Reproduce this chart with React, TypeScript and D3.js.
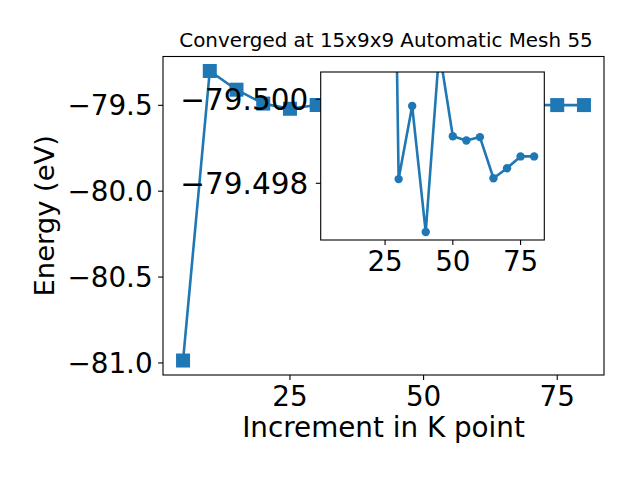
import React from "react";
import * as d3 from "d3";

const kPoints = [5, 10, 15, 20, 25, 30, 35, 40, 45, 50, 55, 60, 65, 70, 75, 80];
const energies = [
  -80.986, -79.3, -79.409, -79.49, -79.52, -79.4981, -79.49984, -79.49684,
  -79.50117, -79.49912, -79.49902, -79.4991, -79.49812, -79.49836, -79.49864,
  -79.49864,
];
const insetStartIndex = 4;
const mainYTicks = [-79.5, -80.0, -80.5, -81.0];
const mainXTicks = [25, 50, 75];
const insetYTicks = [-79.5, -79.498];
const insetXTicks = [25, 50, 75];
const titleText = "Converged at 15x9x9 Automatic Mesh 55";
const xLabel = "Increment in K point";
const yLabel = "Energy (eV)";

const BLUE = "#1f77b4";
const FONT = "DejaVu Sans";

export default function App() {
  const M = { left: 163, right: 604, top: 56.5, bottom: 375 };
  const I = { left: 320.7, right: 544.3, top: 72, bottom: 240 };

  const xDom = d3.extent(kPoints) as [number, number];
  const xPad = (xDom[1] - xDom[0]) * 0.05;
  const x = d3.scaleLinear().domain([xDom[0] - xPad, xDom[1] + xPad]).range([M.left, M.right]);
  const yDom = d3.extent(energies) as [number, number];
  const yPad = (yDom[1] - yDom[0]) * 0.05;
  const y = d3.scaleLinear().domain([yDom[0] - yPad, yDom[1] + yPad]).range([M.bottom, M.top]);

  const xi = d3.scaleLinear().domain([xDom[0] - xPad, xDom[1] + xPad]).range([I.left, I.right]);
  const yi = d3.scaleLinear().domain([-79.50065, -79.49665]).range([I.top, I.bottom]);

  const data = kPoints.map((k, i) => ({ k, e: energies[i] }));
  const insetData = data.slice(insetStartIndex);

  const mainLine = d3.line<{ k: number; e: number }>().x((d) => x(d.k)).y((d) => y(d.e))(data) || "";
  const insetLine = d3.line<{ k: number; e: number }>().x((d) => xi(d.k)).y((d) => yi(d.e))(insetData) || "";

  const tl = 4.9;
  const ms = 14;

  return (
    <svg width={640} height={480} style={{ position: "absolute", left: 0, top: 0, background: "#fff" }} fontFamily={FONT}>
      <defs>
        <clipPath id="mainClip">
          <rect x={M.left} y={M.top} width={M.right - M.left} height={M.bottom - M.top} />
        </clipPath>
        <clipPath id="insetClip">
          <rect x={I.left} y={I.top} width={I.right - I.left} height={I.bottom - I.top} />
        </clipPath>
      </defs>
      <rect x={0} y={0} width={640} height={480} fill="#fff" />
      {/* main data */}
      <g clipPath="url(#mainClip)">
        <path d={mainLine} fill="none" stroke={BLUE} strokeWidth={2.6} strokeLinejoin="round" />
        {data.map((d, i) => (
          <rect key={i} x={x(d.k) - ms / 2} y={y(d.e) - ms / 2} width={ms} height={ms} fill={BLUE} />
        ))}
      </g>
      {/* main spines */}
      <rect x={M.left} y={M.top} width={M.right - M.left} height={M.bottom - M.top} fill="none" stroke="#000" strokeWidth={1.1} />
      {/* main ticks */}
      {mainYTicks.map((t) => (
        <g key={"my" + t}>
          <line x1={M.left - tl} x2={M.left} y1={y(t)} y2={y(t)} stroke="#000" strokeWidth={1.1} />
          <text x={M.left - tl - 5.5} y={y(t)} dy="0.36em" textAnchor="end" fontSize={27.8}>
            {d3.format(".1f")(t).replace("-", "\u2212")}
          </text>
        </g>
      ))}
      {mainXTicks.map((t) => (
        <g key={"mx" + t}>
          <line x1={x(t)} x2={x(t)} y1={M.bottom} y2={M.bottom + tl} stroke="#000" strokeWidth={1.1} />
          <text x={x(t)} y={M.bottom + tl + 4.9} dy="0.76em" textAnchor="middle" fontSize={27.8}>
            {t}
          </text>
        </g>
      ))}
      <text x={(M.left + M.right) / 2} y={437} textAnchor="middle" fontSize={27.8}>
        {xLabel}
      </text>
      <text transform={`translate(54,${(M.top + M.bottom) / 2}) rotate(-90)`} textAnchor="middle" fontSize={27.4}>
        {yLabel}
      </text>
      <text x={386} y={46.5} textAnchor="middle" fontSize={19.9}>
        {titleText}
      </text>

      {/* inset */}
      <rect x={I.left} y={I.top} width={I.right - I.left} height={I.bottom - I.top} fill="#fff" />
      <g clipPath="url(#insetClip)">
        <path d={insetLine} fill="none" stroke={BLUE} strokeWidth={2.6} strokeLinejoin="round" />
        {insetData.map((d, i) => (
          <circle key={i} cx={xi(d.k)} cy={yi(d.e)} r={4.2} fill={BLUE} />
        ))}
      </g>
      <rect x={I.left} y={I.top} width={I.right - I.left} height={I.bottom - I.top} fill="none" stroke="#000" strokeWidth={1.1} />
      {insetYTicks.map((t) => (
        <g key={"iy" + t}>
          <line x1={I.left - tl} x2={I.left} y1={yi(t)} y2={yi(t)} stroke="#000" strokeWidth={1.1} />
          <text x={I.left - tl - 7.5} y={yi(t)} dy="0.36em" textAnchor="end" fontSize={29.5}>
            {d3.format(".3f")(t).replace("-", "\u2212")}
          </text>
        </g>
      ))}
      {insetXTicks.map((t) => (
        <g key={"ix" + t}>
          <line x1={xi(t)} x2={xi(t)} y1={I.bottom} y2={I.bottom + tl} stroke="#000" strokeWidth={1.1} />
          <text x={xi(t)} y={I.bottom + tl + 4.9} dy="0.76em" textAnchor="middle" fontSize={27.8}>
            {t}
          </text>
        </g>
      ))}
    </svg>
  );
}
